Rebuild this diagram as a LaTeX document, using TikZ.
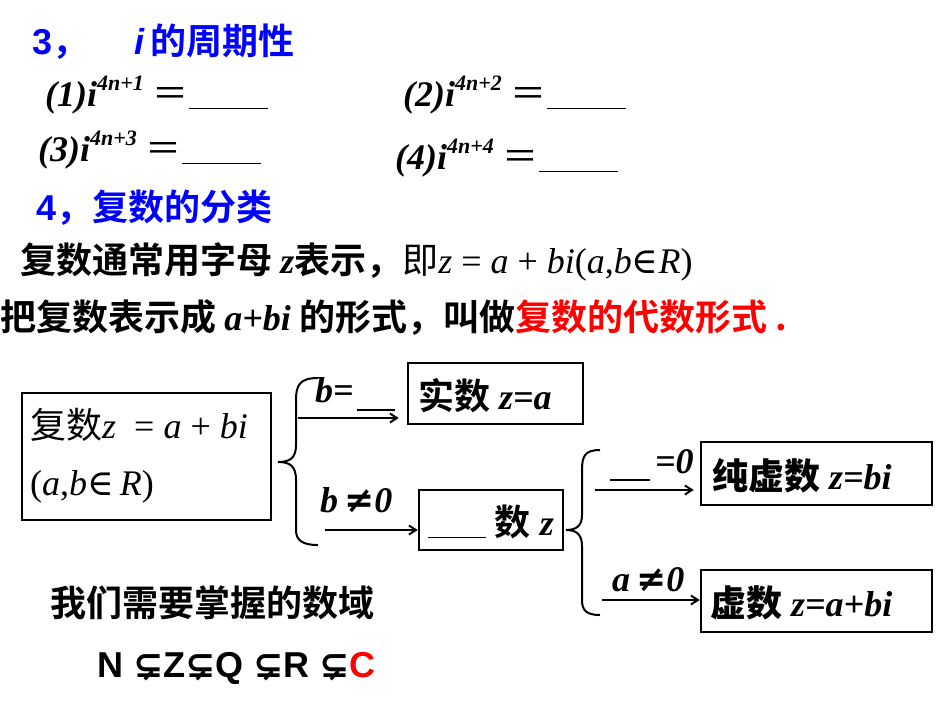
\documentclass[tikz,border=0pt]{standalone}
\usepackage{fontspec}
\setmainfont{Liberation Serif}
\newfontfamily\cjk{Noto Sans CJK SC}[BoldFont={* Bold}]
\newfontfamily\arl{Liberation Sans}
\newfontfamily\dvs{DejaVu Sans}
\newfontfamily\dvserif{DejaVu Serif}
\usetikzlibrary{arrows.meta}
\newcommand{\bi}[1]{\textbf{\textit{#1}}}
\newcommand{\sq}[1]{\textbf{\textit{(#1)i}}\raisebox{0.45em}{\fontsize{22}{22}\selectfont\bi{4n+#1}}\ {\cjk ＝}\underline{\hspace{2.2em}}}
\begin{document}
\begin{tikzpicture}[x=1pt,y=-1pt,
  t/.style={anchor=west,inner sep=0pt,font=\fontsize{36}{38}\selectfont},
  bx/.style={draw,line width=2.5pt,inner sep=0pt},
  ar/.style={line width=2pt,-{Straight Barb[length=7pt,width=9pt]}},
  br/.style={line width=2pt}]
\useasboundingbox (0,0) rectangle (950,713);
\node[t,text=blue] (h3) at (32,42) {\arl\bfseries 3{\cjk ，}\quad\ \textit{i}\,\cjk\bfseries 的周期性};
\node[t] (q1) at (45,95) {\sq{1}};
\node[t] (q2) at (403,95) {\sq{2}};
\node[t] (q3) at (38,150) {\sq{3}};
\node[t] (q4) at (395,158) {\sq{4}};
\node[t,text=blue] (h4) at (36,208) {\arl\bfseries 4{\cjk\bfseries ，复数的分类}};
\node[t] (l1) at (20,262) {{\cjk\bfseries 复数通常用字母 }\bi{z}{\cjk\bfseries 表示，}{\cjk 即}\textit{z} = \textit{a} + \textit{bi}(\textit{a},\textit{b}{\dvserif ∈}\textit{R})};
\node[t] (l2) at (0,318) {{\cjk\bfseries 把复数表示成 }\bi{a+bi}{\cjk\bfseries\ 的形式，叫做}{\cjk\bfseries\color{red}复数的代数形式 .}};
\node[bx,minimum width=249pt,minimum height=127pt] (b1) at (146.5,456.5) {};
\node[t] (b1a) at (30,425) {{\cjk 复数}\textit{z} \ = \textit{a} + \textit{bi}};
\node[t] (b1b) at (30,487) {(\textit{a},\textit{b}{\dvserif ∈}\,\textit{R})};
\node[bx,minimum width=175pt,minimum height=61pt] (b2) at (495.5,393.5) {};
\node[t] at (418,396) {{\cjk\bfseries 实数} \bi{z=a}};
\node[bx,minimum width=144pt,minimum height=60pt] (b3) at (491,520) {};
\node[t] at (428,522) {\underline{\hspace{1.6em}} {\cjk\bfseries 数} \bi{z}};
\node[bx,minimum width=231pt,minimum height=63pt] (b4) at (816.5,473.5) {};
\node[t] at (712,476) {{\cjk\bfseries\itshape 纯虚数} \bi{z=bi}};
\node[bx,minimum width=231pt,minimum height=62pt] (b5) at (816.5,601) {};
\node[t] at (710,603) {{\cjk\bfseries\itshape 虚数} \bi{z=a+bi}};
% braces
\draw[br] (318,378) .. controls (300,378) and (296,385) .. (296,400) -- (296,445) .. controls (296,458) and (290,462) .. (278,462) .. controls (290,462) and (296,466) .. (296,480) -- (296,530) .. controls (296,540) and (302,545) .. (318,545);
\draw[br] (600,450) .. controls (585,450) and (582,456) .. (582,470) -- (582,515) .. controls (582,526) and (576,530) .. (566,530) .. controls (576,530) and (582,534) .. (582,546) -- (582,600) .. controls (582,610) and (586,615) .. (600,615);
\coordinate (s1) at (298,418); \coordinate (e1) at (b2.west|-s1);
\draw[ar] (s1) -- ([xshift=-8pt]e1);
\node[t] at (315,390) {\bi{b=}};
\draw[line width=2pt] (357,410) -- (395,410);
\coordinate (s2) at (325,530);
\draw[ar] (s2) -- (b3.west|-s2);
\node[t] at (320,500) {\bi{b}\,{\dvs\bfseries ≠}\bi{0}};
\coordinate (s3) at (595,490);
\draw[ar] (s3) -- ([xshift=-6pt]b4.west|-s3);
\draw[line width=2pt] (610,480) -- (650,480);
\node[t] at (655,462) {\bi{=0}};
\coordinate (s4) at (602,600);
\draw[ar] (s4) -- (b5.west|-s4);
\node[t] at (612,580) {\bi{a}\,{\dvs\bfseries ≠}\bi{0}};
\node[t] (dom) at (50,603) {\cjk\bfseries 我们需要掌握的数域};
\node[t] (set) at (97,668) {\arl\bfseries N {\dvs ⊊}Z{\dvs ⊊}Q {\dvs ⊊}R {\dvs ⊊}{\color{red}C}};
\end{tikzpicture}
\end{document}
